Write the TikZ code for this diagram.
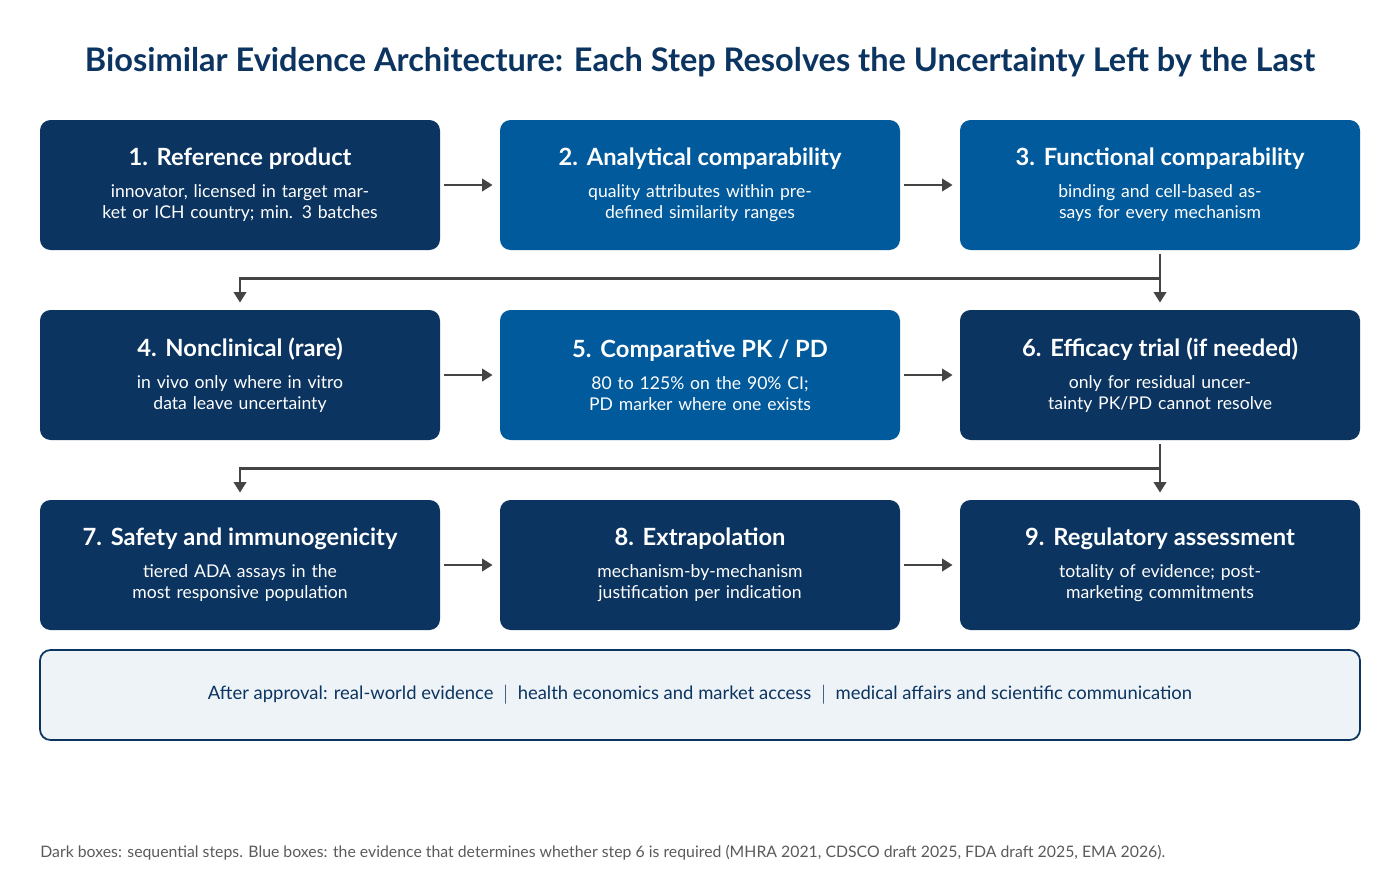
\documentclass[tikz,border=0pt]{standalone}
\usepackage{fontspec}
\setmainfont{Lato}
\usetikzlibrary{arrows.meta, positioning}
\definecolor{darkBox}{HTML}{0B3460}
\definecolor{blueBox}{HTML}{005A9C}
\definecolor{titleColor}{HTML}{0B3460}
\definecolor{lineColor}{HTML}{444444}
\definecolor{noteFill}{HTML}{EEF3F8}
\definecolor{noteText}{HTML}{5A5A5A}

\newcommand{\stepbox}[2]{{\fontsize{13.5pt}{16pt}\selectfont\bfseries #1}\\[6pt]{\fontsize{10pt}{13.5pt}\selectfont #2}}

\begin{document}
\begin{tikzpicture}[
    % Box Styles
    base/.style={
        rounded corners=6pt,
        align=center,
        text=white,
        minimum width=8cm,
        minimum height=2.6cm,
        text width=7.2cm,
        inner sep=4pt
    },
    darkStep/.style={base, fill=darkBox},
    blueStep/.style={base, fill=blueBox},
    % Line Styles
    connector/.style={
        -{Triangle[length=6pt,width=7pt]},
        line width=1.6pt,
        color=lineColor
    }
]
    \useasboundingbox (0,0) rectangle (28,-17.4);

    % --- TITLE ---
    \node[font=\fontsize{18.5pt}{22pt}\selectfont\bfseries, text=titleColor] (title) at (14,-1.24)
        {Biosimilar Evidence Architecture: Each Step Resolves the Uncertainty Left by the Last};

    % --- ROW 1 ---
    \node[darkStep] (ref) at (4.8,-3.7) {\stepbox{1. Reference product}{innovator, licensed in target market or ICH country; min. 3 batches}};
    \node[blueStep] (ana) at (14,-3.7) {\stepbox{2. Analytical comparability}{quality attributes within predefined similarity ranges}};
    \node[blueStep] (fun) at (23.2,-3.7) {\stepbox{3. Functional comparability}{binding and cell-based assays for every mechanism}};

    % --- ROW 2 ---
    \node[darkStep] (non) at (4.8,-7.5) {\stepbox{4. Nonclinical (rare)}{in vivo only where in vitro data leave uncertainty}};
    \node[blueStep] (pkpd) at (14,-7.5) {\stepbox{5. Comparative PK / PD}{80 to 125\% on the 90\% CI; PD marker where one exists}};
    \node[darkStep] (eff) at (23.2,-7.5) {\stepbox{6. Efficacy trial (if needed)}{only for residual uncertainty PK/PD cannot resolve}};

    % --- ROW 3 ---
    \node[darkStep] (saf) at (4.8,-11.3) {\stepbox{7. Safety and immunogenicity}{tiered ADA assays in the most responsive population}};
    \node[darkStep] (ext) at (14,-11.3) {\stepbox{8. Extrapolation}{mechanism-by-mechanism justification per indication}};
    \node[darkStep] (reg) at (23.2,-11.3) {\stepbox{9. Regulatory assessment}{totality of evidence; post-marketing commitments}};

    % --- AFTER APPROVAL ---
    \node[draw=darkBox, line width=1pt, fill=noteFill, rounded corners=6pt,
          minimum width=26.4cm, minimum height=1.8cm, text=darkBox,
          font=\fontsize{10.5pt}{13pt}\selectfont] (after) at (14,-13.9)
        {After approval: real-world evidence \ $|$ \ health economics and market access \ $|$ \ medical affairs and scientific communication};

    % --- FOOTNOTE ---
    \node[anchor=west, text=noteText, font=\fontsize{9pt}{11pt}\selectfont, inner sep=0pt] (note) at (0.8,-17.06)
        {Dark boxes: sequential steps. Blue boxes: the evidence that determines whether step 6 is required (MHRA 2021, CDSCO draft 2025, FDA draft 2025, EMA 2026).};

    % --- CONNECTIONS ---
    \draw[connector] ([xshift=2pt]ref.east) -- ([xshift=-4pt]ana.west);
    \draw[connector] ([xshift=2pt]ana.east) -- ([xshift=-4pt]fun.west);
    \draw[connector] ([xshift=2pt]non.east) -- ([xshift=-4pt]pkpd.west);
    \draw[connector] ([xshift=2pt]pkpd.east) -- ([xshift=-4pt]eff.west);
    \draw[connector] ([xshift=2pt]saf.east) -- ([xshift=-4pt]ext.west);
    \draw[connector] ([xshift=2pt]ext.east) -- ([xshift=-4pt]reg.west);

    % row changes
    \draw[connector] ([yshift=-2pt]fun.south) -- ++(0,-0.5) -| ([yshift=4pt]non.north);
    \draw[connector] ([yshift=-2pt]fun.south) -- ([yshift=4pt]eff.north);
    \draw[connector] ([yshift=-2pt]eff.south) -- ++(0,-0.5) -| ([yshift=4pt]saf.north);
    \draw[connector] ([yshift=-2pt]eff.south) -- ([yshift=4pt]reg.north);

\end{tikzpicture}
\end{document}
